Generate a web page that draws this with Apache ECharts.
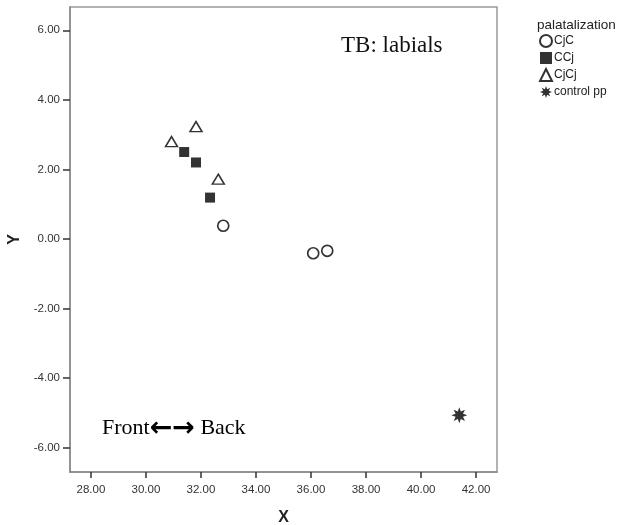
<!DOCTYPE html>
<html>
<head>
<meta charset="utf-8">
<script src="https://cdn.jsdelivr.net/npm/echarts@6/dist/echarts.min.js"></script>
<style>
  html, body { margin: 0; padding: 0; background: #fff; }
  #chart { width: 623px; height: 525px; }
</style>
</head>
<body>
<div id="chart"></div>
<script>
// data
const cjcPoints = [[32.81, 0.38], [36.08, -0.41], [36.59, -0.34]];
const ccjPoints = [[31.39, 2.50], [31.82, 2.20], [32.33, 1.19]];
const cjcjPoints = [[31.82, 3.23], [30.93, 2.80], [32.63, 1.72]];
const controlPoints = [[41.39, -5.07]];

const xTicks = [28, 30, 32, 34, 36, 38, 40, 42];
const yTicks = [-6, -4, -2, 0, 2, 4, 6];

// 8-point star with a hole in the middle
const starPath = "path://M20 10 L14.62 11.91 L17.07 17.07 L11.91 14.62 L10 20 L8.09 14.62 L2.93 17.07 L5.38 11.91 L0 10 L5.38 8.09 L2.93 2.93 L8.09 5.38 L10 0 L11.91 5.38 L17.07 2.93 L14.62 8.09 Z " +
  "M13 10 L12.12 12.12 L10 13 L7.88 12.12 L7 10 L7.88 7.88 L10 7 L12.12 7.88 Z";

const chart = echarts.init(document.getElementById("chart"));

const sans = "'Liberation Sans', Arial, sans-serif";
const serif = "'Liberation Serif', 'Times New Roman', serif";

chart.setOption({
  backgroundColor: "#fff",
  animation: false,
  grid: {
    left: 70, right: 126, top: 7, bottom: 53,
    outerBoundsMode: "none", containLabel: false,
    show: true, borderColor: "#999", borderWidth: 1.5, backgroundColor: "#fff"
  },
  legend: {
    orient: "vertical",
    left: 534, top: 29,
    itemWidth: 12, itemHeight: 12, itemGap: 4,
    textStyle: { fontFamily: sans, fontSize: 12, color: "#222", padding: [0, 0, 0, -3] },
    data: ["CjC", "CCj", "CjCj", "control pp"]
  },
  xAxis: {
    type: "value",
    min: 27.24, max: 42.76,
    name: "X", nameLocation: "middle", nameGap: 38,
    nameTextStyle: { fontFamily: sans, fontSize: 16, fontWeight: "bold", color: "#222" },
    axisLine: { show: true, onZero: false, lineStyle: { color: "#888", width: 1.5 } },
    axisTick: { show: true, customValues: xTicks, length: 6, lineStyle: { color: "#333", width: 1.5 } },
    axisLabel: {
      customValues: xTicks, margin: 12,
      fontFamily: sans, fontSize: 11.5, color: "#333",
      formatter: v => v.toFixed(2)
    },
    splitLine: { show: false }
  },
  yAxis: {
    type: "value",
    min: -6.7, max: 6.67,
    name: "Y", nameLocation: "middle", nameGap: 43,
    nameTextStyle: { fontFamily: sans, fontSize: 16, fontWeight: "bold", color: "#222" },
    axisLine: { show: true, onZero: false, lineStyle: { color: "#888", width: 1.5 } },
    axisTick: { show: true, customValues: yTicks, length: 7, lineStyle: { color: "#333", width: 1.5 } },
    axisLabel: {
      customValues: yTicks, margin: 10,
      fontFamily: sans, fontSize: 11.5, color: "#333",
      formatter: v => v.toFixed(2)
    },
    splitLine: { show: false }
  },
  series: [
    {
      name: "CjC", type: "scatter", data: cjcPoints,
      symbol: "circle", symbolSize: 11,
      itemStyle: { color: "#fff", borderColor: "#000", borderWidth: 1.7 }
    },
    {
      name: "CCj", type: "scatter", data: ccjPoints,
      symbol: "rect", symbolSize: 10,
      itemStyle: { color: "#000" }
    },
    {
      name: "CjCj", type: "scatter", data: cjcjPoints,
      symbol: "triangle", symbolSize: [12, 10],
      itemStyle: { color: "#fff", borderColor: "#000", borderWidth: 1.5 }
    },
    {
      name: "control pp", type: "scatter", data: controlPoints,
      symbol: starPath, symbolSize: 16,
      itemStyle: { color: "#000" }
    }
  ],
  graphic: [
    {
      type: "text", left: 537, top: 18,
      style: { text: "palatalization", fontFamily: sans, fontSize: 13.5, fill: "#222" }
    },
    {
      type: "text", left: 341, top: 34,
      style: { text: "TB: labials", fontFamily: serif, fontSize: 23, fill: "#111" }
    },
    {
      type: "text", left: 102, top: 415,
      style: {
        text: "{a|Front}{b|\u2190\u2192}{a| Back}",
        rich: {
          a: { fontFamily: serif, fontSize: 22, color: "#111" },
          b: { fontFamily: "'DejaVu Sans', sans-serif", fontWeight: "bold", fontSize: 27, color: "#111" }
        }
      }
    }
  ]
});
</script>
</body>
</html>
